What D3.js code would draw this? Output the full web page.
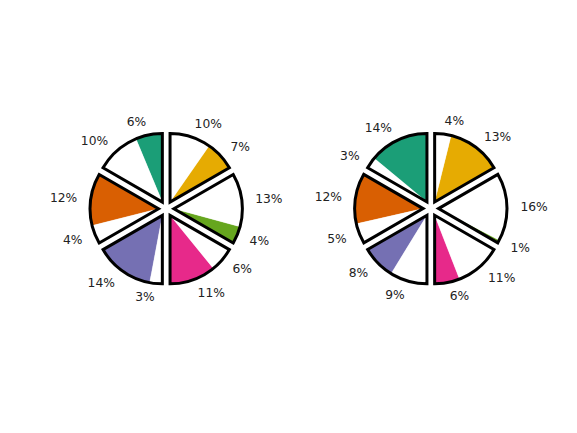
<!DOCTYPE html>
<html><head><meta charset="utf-8">
<script src="https://cdn.jsdelivr.net/npm/d3@7"></script>
<style>body{margin:0;background:#fff}</style>
</head><body><svg id="c" width="577" height="433"></svg>
<script>
// Data (percent shares)
const groups = ["g1","g2","g3","g4","g5","g6"];
const groupColors = ["#1b9e77","#d95f02","#7570b3","#e7298a","#66a61e","#e6ab02"];
const leftColored  = [6.3, 12.3, 13.7, 10.9, 4.1, 7.0];
const leftWhite    = [10.37, 4.37, 2.97, 5.77, 12.57, 9.67];
const rightColored = [14.0, 11.9, 7.9, 5.9, 0.7, 12.8];
const rightWhite   = [2.67, 4.77, 8.77, 10.77, 15.97, 3.87];

const svg = d3.select("#c");
svg.append("rect").attr("width",577).attr("height",433).attr("fill","#fff");
const color = d3.scaleOrdinal(groups, groupColors);
const R = 68.5, EXPL = 7.7, LABEL = 82;
const fmt = d3.format(".0f");

function drawPie(cx, cy, colored, white) {
  const slices = groups.flatMap((g,i) => [
    {g, i, kind:"c", v: colored[i]},
    {g, i, kind:"w", v: white[i]}
  ]);
  const total = d3.sum(slices, d => d.v);
  const pie = d3.pie().sort(null).value(d => d.v).startAngle(0).endAngle(-2*Math.PI);
  const arcs = pie(slices);
  const arc = d3.arc().innerRadius(0).outerRadius(R);
  const root = svg.append("g").attr("transform", `translate(${cx},${cy})`);
  groups.forEach((g, i) => {
    const a = arcs[2*i], b = arcs[2*i+1];
    const ga = {startAngle: a.startAngle, endAngle: b.endAngle};
    const mid = (ga.startAngle + ga.endAngle)/2;
    const sx = EXPL*Math.sin(mid), sy = -EXPL*Math.cos(mid);
    const gg = root.append("g").attr("transform", `translate(${sx},${sy})`);
    [a, b].forEach(s => {
      gg.append("path").attr("d", arc(s))
        .attr("fill", s.data.kind === "c" ? color(g) : "#fff")
        .attr("stroke", s.data.kind === "c" ? color(g) : "#fff")
        .attr("stroke-width", 0.3);
    });
    gg.append("path").attr("d", arc(ga))
      .attr("fill", "none").attr("stroke", "#000")
      .attr("stroke-width", 3).attr("stroke-linejoin", "miter");
    [a, b].forEach(s => {
      const m = (s.startAngle + s.endAngle)/2;
      const lx = LABEL*Math.sin(m), ly = -LABEL*Math.cos(m);
      gg.append("text")
        .attr("x", lx).attr("y", ly).attr("dy", "0.36em")
        .attr("text-anchor", lx > 0 ? "start" : "end")
        .attr("font-family", "DejaVu Sans")
        .attr("font-size", 12.3)
        .attr("fill", "#222")
        .text(fmt(s.data.v/total*100) + "%");
    });
  });
}
drawPie(166.2, 208.7, leftColored, leftWhite);
drawPie(430.8, 208.6, rightColored, rightWhite);
</script></body></html>
